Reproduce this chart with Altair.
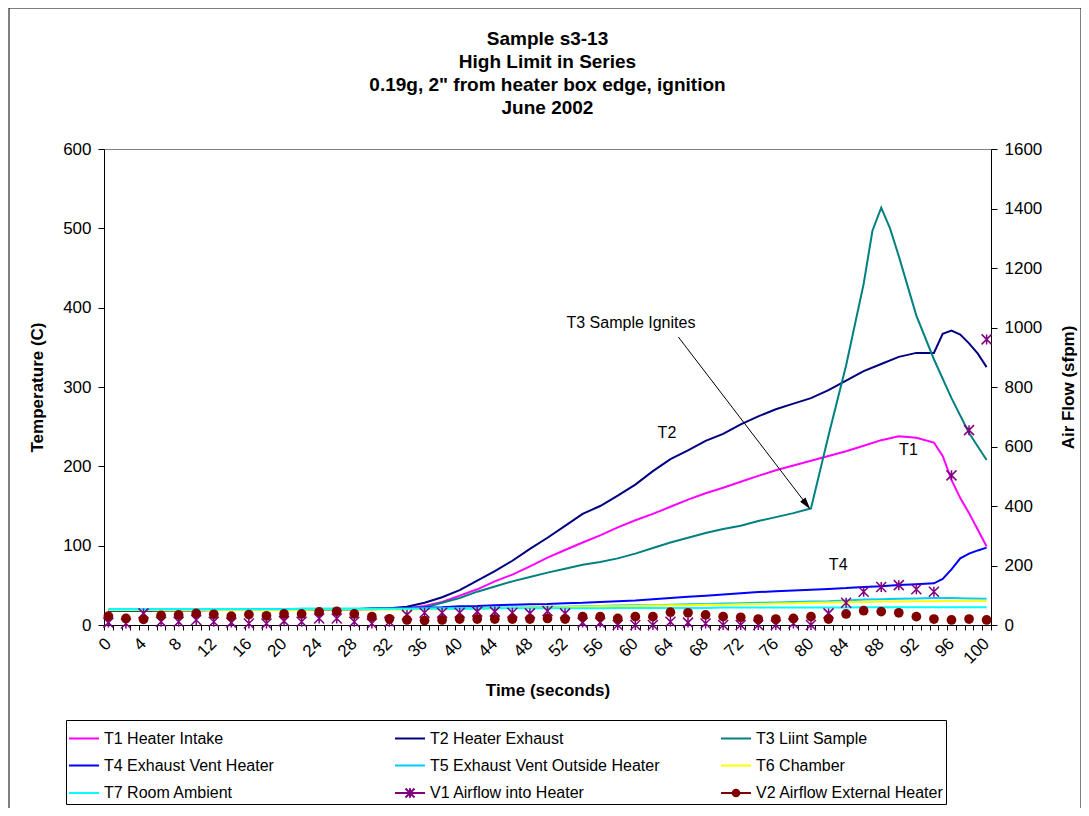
import altair as alt
import pandas as pd

# ---------------- data ----------------
series_names = ["T1 Heater Intake", "T2 Heater Exhaust", "T3 Liint Sample",
                "T4 Exhaust Vent Heater", "T5 Exhaust Vent Outside Heater", "T6 Chamber",
                "T7 Room Ambient", "V1 Airflow into Heater", "V2 Airflow External Heater"]
series_colors = ["#FF00FF", "#000080", "#008080", "#0000FF", "#00CCFF", "#FFFF00",
                 "#00FFFF", "#800080", "#800000"]

time_s = list(range(0, 101, 2))

T1 = [18, 18, 18, 18.5, 18.5, 18.5, 19, 19, 19, 19, 19.5, 19.5, 19.5, 20, 20, 20, 20.5, 21,
      24, 29, 37, 45, 55, 63.5, 74, 85, 94.5, 104, 113, 123, 132, 140, 149, 158, 166, 173,
      180.5, 188, 195, 201, 207, 213, 219, 226, 233, 238, 236, 230, 183, 141, 99]
T1_extra_t = [95, 97, 99]
T1_extra = [213, 160, 120]

T2 = [18, 18, 18, 18.5, 18.5, 18.5, 19, 19, 19, 19.5, 19.5, 19.5, 20, 20, 20, 20.5, 21, 23,
      28, 35, 44, 56, 68, 81, 96, 110, 125, 140, 150, 163, 177, 194, 209, 220, 232, 241,
      253, 263, 272, 279, 286, 296, 308, 320, 329, 338, 343, 343, 371, 355, 325]
T2_extra_t = [95, 97, 99]
T2_extra = [367, 366, 342]

T3 = [18, 18, 18, 18.5, 18.5, 18.5, 19, 19, 19, 19, 19.5, 19.5, 19.5, 20, 20, 20, 20.5, 20.5,
      22, 28, 34, 42, 48.5, 55, 60.5, 66, 71, 76, 79.5, 84, 90, 97, 104, 110, 116, 121,
      125, 131, 136, 141, 147, 239, 327, 430, 526, 465, 390, 335, 286, 242, 208]
T3_extra_t = [87, 89]
T3_extra = [497, 500]

T4 = [18.5, 18.5, 18.5, 18.5, 19, 19, 19, 19, 19.5, 19.5, 19.5, 19.5, 20, 20, 20, 21, 21, 21.5,
      22, 22.5, 23.5, 24, 25, 25.5, 26, 26.5, 27.5, 28, 29, 30, 31, 32.5, 34, 35.5, 37, 38.5,
      40, 41.5, 42.5, 43.5, 44.5, 45.5, 46.5, 48, 49, 50.5, 51.5, 52.5, 70, 90, 97.5]
T4_extra_t = [95, 97, 99]
T4_extra = [58, 84, 94]

T5 = [20, 20, 20, 20, 20, 20, 20, 20, 20, 20, 20, 20.5, 20.5, 20.5, 20.5, 20.5, 20.5, 20.5,
      21, 21, 21.5, 21.5, 22, 22, 22.5, 23, 23, 23.5, 24, 24.5, 25, 25, 25.5, 26, 26.5, 27,
      27.5, 28, 28.5, 29, 29.5, 30, 31, 32, 32.5, 33, 33.5, 34, 34, 33.5, 33]

T6 = [19, 19, 19, 19, 19, 19, 19, 19, 19, 19, 19, 19, 19.5, 19.5, 19.5, 19.5, 19.5, 19.5,
      20, 20, 20.5, 20.5, 21, 21.5, 22, 22, 22.5, 23, 23.5, 23.5, 24, 24.5, 25, 25, 25.5, 25.5,
      26, 26.5, 27, 27.5, 28, 28.5, 29, 29, 29.5, 29.5, 30, 30, 30.5, 30.5, 30.5]

T7 = [20, 20, 20, 20, 20, 20, 20, 20, 20, 20, 20, 20.5, 20.5, 20.5, 20.5, 20.5, 20.5, 20.5,
      20.5, 20.5, 20.5, 20.5, 21, 21, 21, 21, 21, 21, 21, 21.5, 21.5, 21.5, 21.5, 21.5, 21.5,
      22, 22, 22, 22, 22, 22, 22, 22, 22.5, 22.5, 22.5, 22.5, 22.5, 22.5, 22.5, 22.5]

V1 = [8, 5, 39, 11, 11, 17, 11, 8, 5, 5, 13, 11, 22, 22, 11, 5, 11, 34, 41, 41, 41, 45, 45, 41,
      39, 47, 39, 8, 8, 0, 0, 0, 11, 8, 5, 0, 0, 0, 0, 5, 0, 39, 75, 112, 128, 134, 120, 112,
      503, 655, 960]

V2 = [30, 22, 19, 32, 34, 39, 36, 30, 35, 31, 37, 37, 44, 46, 37, 28, 21, 17, 15, 17, 20, 20,
      20, 20, 20, 22, 20, 28, 28, 22, 28, 28, 43, 41, 34, 28, 26, 20, 20, 22, 28, 20, 37, 48,
      45, 41, 28, 20, 17, 20, 17]

# annotation texts and anchor points (data units)
note_text = ["T3 Sample Ignites", "T2", "T1", "T4"]
note_t = [59.5, 63.6, 91.1, 83.1]
note_val = [381, 242, 221, 76]
arrow_t = [64.9]
arrow_val = [363]
arrow_t2 = [79.5]
arrow_val2 = [152]

y_left_ticks = list(range(0, 601, 100))
y_right_ticks = list(range(0, 1601, 200))

# legend is laid out column by column, so list it column-wise to read row-wise
legend_order = [0, 3, 6, 1, 4, 7, 2, 5, 8]

# ---------------- tables ----------------
rows = []
temp_sets = [(T1, T1_extra_t, T1_extra), (T2, T2_extra_t, T2_extra), (T3, T3_extra_t, T3_extra),
             (T4, T4_extra_t, T4_extra), (T5, [], []), (T6, [], []), (T7, [], [])]
for name, col, (vals, et, ev) in zip(series_names[:7], series_colors[:7], temp_sets):
    pts = list(zip(time_s, vals)) + list(zip(et, ev))
    pts.sort()
    for t, v in pts:
        rows.append({"series": name, "hex": col, "t": t, "value": v})
temp_df = pd.DataFrame(rows)

v1_df = pd.DataFrame({"t": time_s, "flow": V1})
v2_df = pd.DataFrame({"t": time_s, "flow": V2})
note_df = pd.DataFrame({"t": note_t, "value": note_val, "label": note_text})
arrow_df = pd.DataFrame({"t": arrow_t, "value": arrow_val, "t2": arrow_t2, "value2": arrow_val2})
legend_df = pd.DataFrame({"series": series_names})

# ---------------- styles ----------------
FONT = "Liberation Sans"
LINE_PATH = "M-1,0L1,0"
V1_LEG = "M-1,0L1,0M-0.3,-0.3L0.3,0.3M-0.3,0.3L0.3,-0.3M0,-0.32L0,0.32"
V2_LEG = ("M-1,0L1,0"
          "M-0.22,0a0.22,0.22 0 1,0 0.44,0a0.22,0.22 0 1,0 -0.44,0"
          "M-0.12,0a0.12,0.12 0 1,0 0.24,0a0.12,0.12 0 1,0 -0.24,0"
          "M-0.04,0a0.04,0.04 0 1,0 0.08,0a0.04,0.04 0 1,0 -0.08,0")
series_shapes = [LINE_PATH] * 7 + [V1_LEG, V2_LEG]
ASTERISK = "M-1,-1L1,1M-1,1L1,-1M0,-1L0,1"
ARROW_HEAD = "M0,-1L0.55,1L-0.55,1Z"

leg_domain = [series_names[i] for i in legend_order]
leg_colors = [series_colors[i] for i in legend_order]
leg_shapes = [series_shapes[i] for i in legend_order]

color_scale = alt.Scale(domain=leg_domain, range=leg_colors)
shape_scale = alt.Scale(domain=leg_domain, range=leg_shapes)
xscale = alt.Scale(domain=[-0.5, 100.5], nice=False, zero=False)
yl_scale = alt.Scale(domain=[0, 600], nice=False)
yr_scale = alt.Scale(domain=[0, 1600], nice=False)

x_values = [i * 0.5 for i in range(-1, 202)]
xaxis = alt.Axis(values=x_values, title="Time (seconds)", labelAngle=315,
                 labelExpr="datum.value % 4 === 0 ? '' + datum.value : ''",
                 labelOverlap=False, labelFlush=False, labelFontSize=17, labelPadding=5,
                 labelOffset=-6, tickSize=5,
                 tickOpacity={"condition": {"test": "datum.value % 1 === 0", "value": 0}, "value": 1},
                 titleFontSize=17, titleFontWeight="bold", titlePadding=16, grid=False)
yl_axis = alt.Axis(values=y_left_ticks, title="Temperature (C)", tickSize=6, labelPadding=7,
                   labelFontSize=17, titleFontSize=17, titleFontWeight="bold", titlePadding=16,
                   grid=False)
yr_axis = alt.Axis(values=y_right_ticks, title="Air Flow (sfpm)", orient="right", tickSize=6,
                   labelPadding=7, labelFontSize=17, titleFontSize=17, titleFontWeight="bold",
                   titleAngle=270, titleBaseline="top", titlePadding=19, grid=False, format="d")

X = alt.X("t:Q", scale=xscale, axis=xaxis)
YL = alt.Y("value:Q", scale=yl_scale, axis=yl_axis)

lines = alt.Chart(temp_df).mark_line(strokeWidth=2).encode(
    x=X, y=YL,
    color=alt.Color("hex:N", scale=None),
    detail="series:N",
)

notes = alt.Chart(note_df).mark_text(font=FONT, fontSize=16, color="black",
                                     align="center", baseline="middle").encode(
    x=X, y=YL, text="label:N")

arrow_line = alt.Chart(arrow_df).mark_rule(color="black", strokeWidth=1).encode(
    x=X, y=YL, x2="t2:Q", y2="value2:Q")

arrow_head = alt.Chart(arrow_df).mark_point(shape=ARROW_HEAD, angle=142, filled=True,
                                            color="black", size=150, opacity=1).encode(
    x=alt.X("t2:Q", scale=xscale, axis=xaxis),
    y=alt.Y("value2:Q", scale=yl_scale, axis=yl_axis))

legend = alt.Legend(title=None, orient="none", legendX=-38, legendY=571, columns=3,
                    gridAlign="all", columnPadding=57, rowPadding=2.5, symbolSize=900,
                    symbolStrokeWidth=2, symbolOpacity=1, labelFontSize=16, labelFont=FONT,
                    labelColor="black", labelOffset=4, padding=2, strokeColor="black",
                    fillColor="white", labelLimit=400)

carrier = alt.Chart(legend_df).mark_point(opacity=0, filled=False).encode(
    color=alt.Color("series:N", scale=color_scale, legend=legend),
    shape=alt.Shape("series:N", scale=shape_scale, legend=legend),
)

frame = alt.Chart(alt.Data(values=[{}])).mark_rect(fillOpacity=0, stroke="black",
                                                    strokeWidth=1).encode(
    x=alt.value(-95), x2=alt.value(977), y=alt.value(-141), y2=alt.value(690))

YR = alt.Y("flow:Q", scale=yr_scale, axis=yr_axis)
v1 = alt.Chart(v1_df).mark_point(shape=ASTERISK, filled=False, size=100, strokeWidth=1.5,
                                 opacity=1, color=series_colors[7]).encode(x=X, y=YR)
v2 = alt.Chart(v2_df).mark_circle(size=95, opacity=1, color=series_colors[8]).encode(x=X, y=YR)

left = alt.layer(frame, lines, notes, arrow_line, arrow_head, carrier)
right = alt.layer(v1, v2)

# the title sits relative to the top of everything drawn (the outer frame at -141.5),
# so a negative offset brings it back down to just above the plot area
chart = alt.layer(left, right).resolve_scale(y="independent").properties(
    width=887, height=476,
    padding={"left": 96, "top": 141, "right": 90, "bottom": 183},
    autosize=alt.AutoSizeParams(type="none"),
    background="white",
    title=alt.TitleParams(
        text=["Sample s3-13", "High Limit in Series",
              '0.19g, 2" from heater box edge, ignition', "June 2002"],
        font=FONT, fontSize=19, fontWeight="bold", lineHeight=23, anchor="middle",
        frame="group", offset=-110, color="black"),
).configure_axis(
    labelFont=FONT, titleFont=FONT, labelColor="black", titleColor="black",
    domainColor="black", tickColor="black", domainWidth=1, tickWidth=1,
).configure_view(stroke="#808080", strokeWidth=1)

chart.save("out.html", embed_options={"renderer": "svg", "actions": False})
